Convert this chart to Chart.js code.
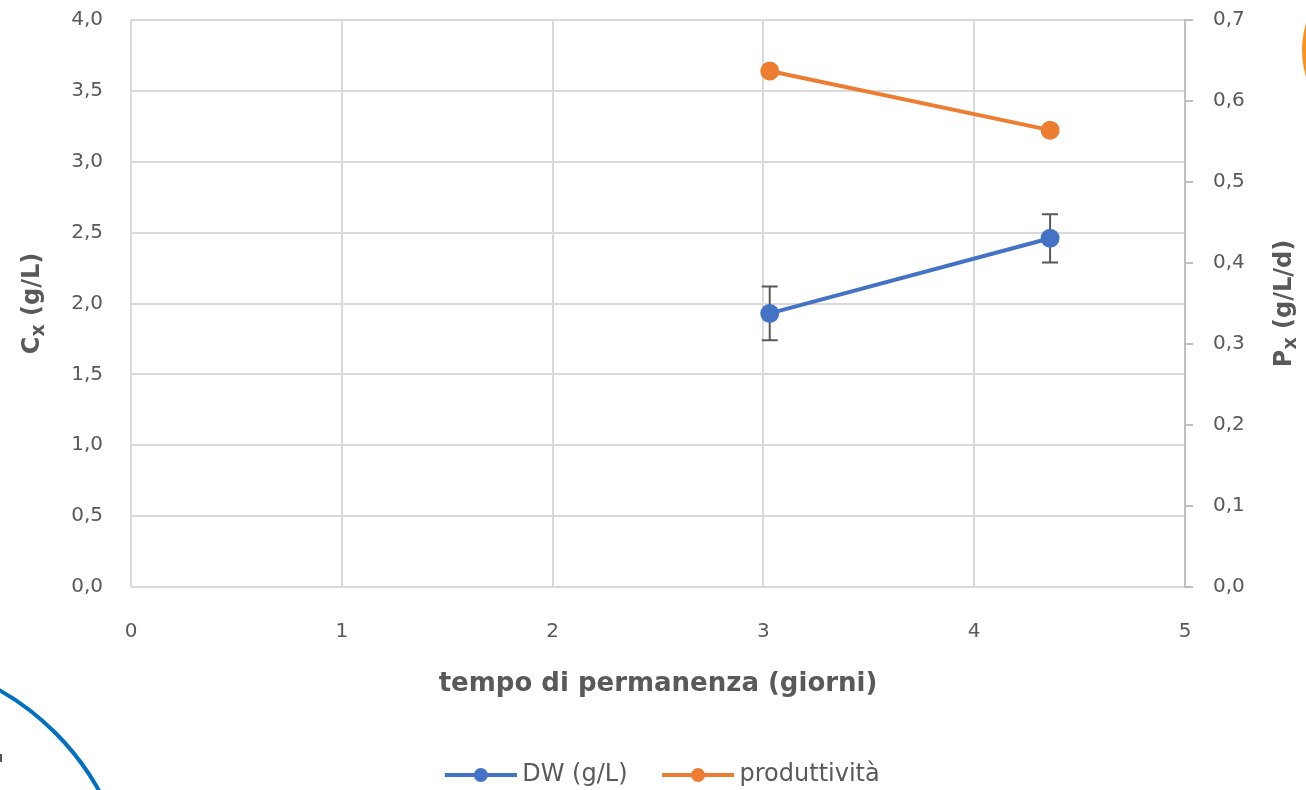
<!DOCTYPE html>
<html>
<head>
<meta charset="utf-8">
<script src="https://cdn.jsdelivr.net/npm/chart.js@4.4.1/dist/chart.umd.min.js"></script>
<style>
  html, body { margin: 0; padding: 0; background: #fff; overflow: hidden; }
  #wrap { position: relative; width: 1306px; height: 790px; }
  #c { position: absolute; left: 0; top: 0; }
  /* bordi di forme fuori dal grafico (screenshot) */
  .deco-blue { position: absolute; left: -394px; top: 654px; width: 520px; height: 520px; border: 4px solid #0070c0; border-radius: 50%; }
  .deco-orange { position: absolute; left: 1302px; top: -43px; width: 186px; height: 186px; background: #f7931e; border-radius: 50%; }
  .deco-mark { position: absolute; left: 0; top: 754px; width: 2px; height: 8px; background: #555; }
</style>
</head>
<body>
<div id="wrap">
  <canvas id="c" width="1306" height="790"></canvas>
  <div class="deco-blue"></div>
  <div class="deco-orange"></div>
  <div class="deco-mark"></div>
</div>
<script>
// ═══ dati ═══
const tempo = [3.03, 4.36];                 // giorni
const dwValues = [1.93, 2.46];              // g/L
const dwErrors = [0.19, 0.17];
const produttivita = [0.637, 0.564];        // g/L/d
const leftTicks = [0, 0.5, 1, 1.5, 2, 2.5, 3, 3.5, 4];
const rightTicks = [0, 0.1, 0.2, 0.3, 0.4, 0.5, 0.6, 0.7];

const BLUE = '#4472c4';
const ORANGE = '#ed7d31';
const TXT = '#595959';
const GRID = '#d9d9d9';
const FONT = "'DejaVu Sans', 'Open Sans', sans-serif";

const fmt = v => v.toFixed(1).replace('.', ',');

// icona legenda: linea + punto (spostata a destra, vicino al testo)
const LEG_BOX = 84;
function legendIcon(color) {
    const cv = document.createElement('canvas');
    cv.width = LEG_BOX + 13; cv.height = 16;
    const g = cv.getContext('2d');
    const x0 = cv.width - 72;
    g.strokeStyle = color; g.lineWidth = 4;
    g.beginPath(); g.moveTo(x0, 8); g.lineTo(x0 + 72, 8); g.stroke();
    g.fillStyle = color;
    g.beginPath(); g.arc(x0 + 36, 8, 7, 0, Math.PI * 2); g.fill();
    return cv;
}

// barre d'errore (sotto i punti)
const errorBars = {
    id: 'errorBars',
    beforeDatasetsDraw(chart) {
        const ctx = chart.ctx;
        chart.data.datasets.forEach((ds, i) => {
            if (!ds.errors) return;
            const meta = chart.getDatasetMeta(i);
            const ys = chart.scales[ds.yAxisID];
            ctx.save();
            ctx.strokeStyle = '#595959';
            ctx.lineWidth = 2;
            meta.data.forEach((pt, j) => {
                const v = ds.data[j].y, e = ds.errors[j];
                const yTop = ys.getPixelForValue(v + e);
                const yBot = ys.getPixelForValue(v - e);
                ctx.beginPath();
                ctx.moveTo(pt.x, yTop); ctx.lineTo(pt.x, yBot);
                ctx.moveTo(pt.x - 8, yTop); ctx.lineTo(pt.x + 8, yTop);
                ctx.moveTo(pt.x - 8, yBot); ctx.lineTo(pt.x + 8, yBot);
                ctx.stroke();
            });
            ctx.restore();
        });
    }
};

// titoli assi verticali con pedice (letti dal basso verso l'alto)
function drawSubTitle(ctx, cx, cy, main, sub, rest) {
    const big = `bold 24px ${FONT}`, small = `bold 19px ${FONT}`;
    ctx.save();
    ctx.translate(cx, cy);
    ctx.rotate(-Math.PI / 2);
    ctx.fillStyle = TXT;
    ctx.textBaseline = 'middle';
    ctx.font = big; const w1 = ctx.measureText(main).width, w3 = ctx.measureText(rest).width;
    ctx.font = small; const w2 = ctx.measureText(sub).width;
    let x = -(w1 + w2 + w3) / 2;
    ctx.font = big; ctx.fillText(main, x, 0); x += w1;
    ctx.font = small; ctx.fillText(sub, x, 6); x += w2;
    ctx.font = big; ctx.fillText(rest, x, 0);
    ctx.restore();
}
const axisTitles = {
    id: 'axisTitles',
    afterDraw(chart) {
        const { y, y1 } = chart.scales;
        const cy = (chart.chartArea.top + chart.chartArea.bottom) / 2;
        drawSubTitle(chart.ctx, y.left + 33, cy, 'C', 'x', ' (g/L)');
        drawSubTitle(chart.ctx, y1.right - 21, cy, 'P', 'x', ' (g/L/d)');
    }
};

// larghezza fissa degli assi verticali, margine alto a 20px
const fitVertical = w => s => { s.width = w; s.paddingTop = 20; s.paddingBottom = 12; };

new Chart(document.getElementById('c'), {
    type: 'line',
    data: {
        datasets: [
            {
                label: 'DW (g/L)',
                data: tempo.map((t, i) => ({ x: t, y: dwValues[i] })),
                errors: dwErrors,
                yAxisID: 'y',
                borderColor: BLUE, backgroundColor: BLUE,
                borderWidth: 4, pointRadius: 7.5, pointHoverRadius: 7.5,
            },
            {
                label: 'produttività',
                data: tempo.map((t, i) => ({ x: t, y: produttivita[i] })),
                yAxisID: 'y1',
                borderColor: ORANGE, backgroundColor: ORANGE,
                borderWidth: 4, pointRadius: 7.5, pointHoverRadius: 7.5,
            },
        ]
    },
    options: {
        responsive: false, animation: false,
        layout: { padding: { top: 20, left: 0, right: 0, bottom: -7 } },
        elements: { line: { tension: 0 } },
        plugins: {
            tooltip: { enabled: false },
            legend: {
                position: 'bottom',
                labels: {
                    usePointStyle: true, pointStyleWidth: LEG_BOX,
                    color: TXT, font: { family: FONT, size: 24 }, padding: 16,
                    generateLabels: chart => chart.data.datasets.map((ds, i) => ({
                        text: ds.label, fontColor: TXT, pointStyle: legendIcon(ds.borderColor),
                        strokeStyle: ds.borderColor, fillStyle: ds.borderColor, lineWidth: 0, datasetIndex: i,
                    })),
                }
            },
        },
        scales: {
            x: {
                type: 'linear', min: 0, max: 5,
                ticks: { stepSize: 1, color: TXT, font: { family: FONT, size: 20 }, padding: 33 },
                grid: { color: GRID, lineWidth: 2, drawTicks: false },
                border: { display: false },
                title: { display: true, text: 'tempo di permanenza (giorni)', color: TXT, font: { family: FONT, size: 26, weight: 'bold' }, padding: { top: 0, bottom: 47 } },
                afterFit: s => { s.height = 160; },
            },
            y: {
                position: 'left', min: 0, max: 4,
                afterBuildTicks: s => { s.ticks = leftTicks.map(v => ({ value: v })); },
                ticks: { color: TXT, font: { family: FONT, size: 20 }, padding: 28, callback: v => fmt(v) },
                grid: { color: GRID, lineWidth: 2, drawTicks: false },
                border: { display: false },
                afterFit: fitVertical(131),
            },
            y1: {
                position: 'right', min: 0, max: 0.7,
                afterBuildTicks: s => { s.ticks = rightTicks.map(v => ({ value: v })); },
                ticks: { color: TXT, font: { family: FONT, size: 20 }, padding: 20, callback: v => fmt(v) },
                grid: { drawOnChartArea: false, color: '#bfbfbf', lineWidth: 2, tickLength: 8 },
                border: { color: '#bfbfbf', width: 2 },
                afterFit: fitVertical(121),
            },
        }
    },
    plugins: [errorBars, axisTitles]
});
</script>
</body>
</html>
